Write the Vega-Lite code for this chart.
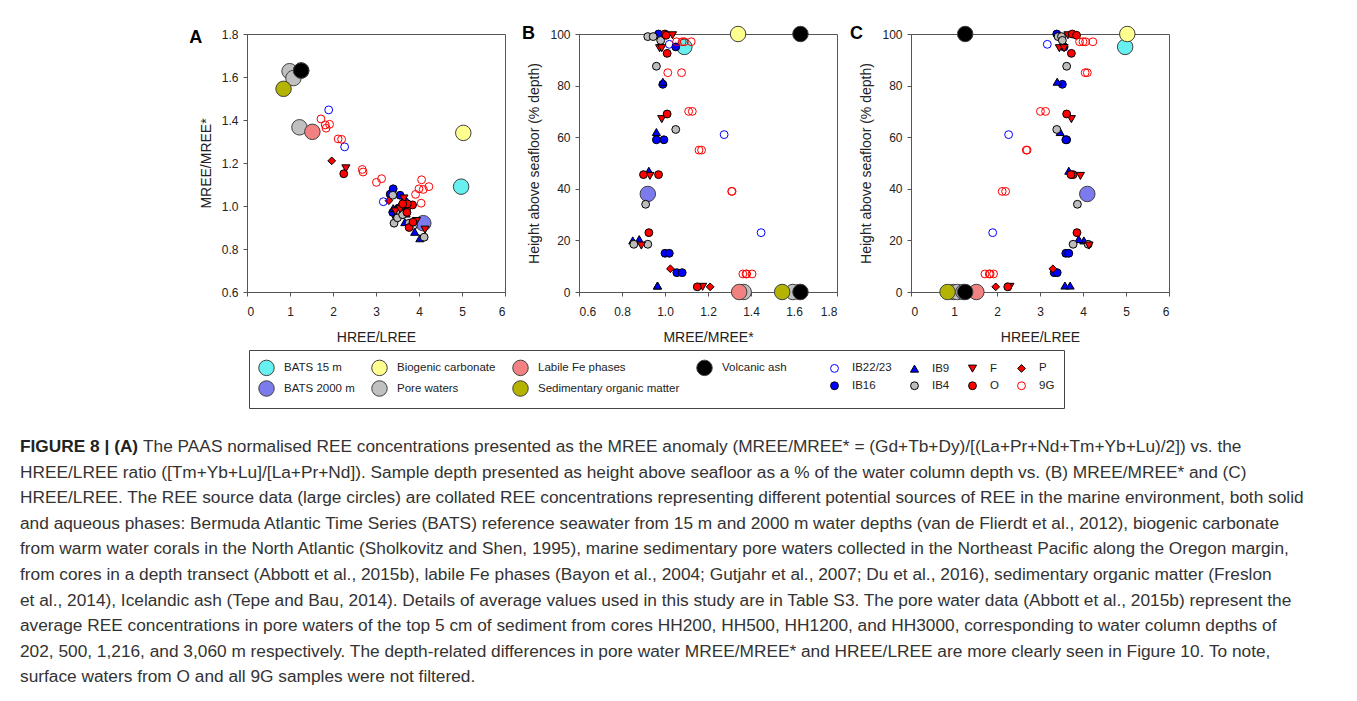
{
  "$schema": "https://vega.github.io/schema/vega-lite/v6.json",
  "padding": {"left": 20, "top": 23, "right": 0, "bottom": 0},
  "background": "white",
  "datasets": {
    "pts": [
      {"g": "Pore waters", "hl": 0.99, "mm": 1.627, "h": 0},
      {"g": "Pore waters", "hl": 1.08, "mm": 1.595, "h": 0},
      {"g": "Pore waters", "hl": 1.22, "mm": 1.366, "h": 0},
      {"g": "Sedimentary organic matter", "hl": 0.85, "mm": 1.545, "h": 0},
      {"g": "Labile Fe phases", "hl": 1.52, "mm": 1.345, "h": 0},
      {"g": "Volcanic ash", "hl": 1.26, "mm": 1.63, "h": 100},
      {"g": "Volcanic ash", "hl": 1.26, "mm": 1.63, "h": 0},
      {"g": "BATS 15 m", "hl": 4.98, "mm": 1.09, "h": 95},
      {"g": "Biogenic carbonate", "hl": 5.03, "mm": 1.34, "h": 100},
      {"g": "BATS 2000 m", "hl": 4.1, "mm": 0.92, "h": 38},
      {"g": "IB16", "hl": 3.39, "mm": 0.97, "h": 100},
      {"g": "IB16", "hl": 3.56, "mm": 1.05, "h": 95},
      {"g": "IB16", "hl": 3.52, "mm": 0.99, "h": 80.5},
      {"g": "IB16", "hl": 3.62, "mm": 0.96, "h": 59},
      {"g": "IB16", "hl": 3.6, "mm": 0.995, "h": 59},
      {"g": "IB16", "hl": 3.6, "mm": 1.0, "h": 15},
      {"g": "IB16", "hl": 3.67, "mm": 1.02, "h": 15},
      {"g": "IB16", "hl": 3.33, "mm": 1.055, "h": 7.5},
      {"g": "IB16", "hl": 3.4, "mm": 1.08, "h": 7.5},
      {"g": "IB9", "hl": 3.4, "mm": 0.99, "h": 81.5},
      {"g": "IB9", "hl": 3.47, "mm": 0.96, "h": 62},
      {"g": "IB9", "hl": 3.67, "mm": 0.925, "h": 47},
      {"g": "IB9", "hl": 4.02, "mm": 0.85, "h": 20},
      {"g": "IB9", "hl": 3.9, "mm": 0.88, "h": 20.5},
      {"g": "IB9", "hl": 3.58, "mm": 0.965, "h": 2.5},
      {"g": "IB9", "hl": 3.7, "mm": 0.965, "h": 2.5},
      {"g": "IB4", "hl": 3.42, "mm": 0.92, "h": 99},
      {"g": "IB4", "hl": 3.5, "mm": 0.945, "h": 99},
      {"g": "IB4", "hl": 3.52, "mm": 0.98, "h": 97.5},
      {"g": "IB4", "hl": 3.62, "mm": 0.96, "h": 87.5},
      {"g": "IB4", "hl": 3.39, "mm": 1.05, "h": 63},
      {"g": "IB4", "hl": 3.87, "mm": 0.91, "h": 34},
      {"g": "IB4", "hl": 3.77, "mm": 0.92, "h": 18.5},
      {"g": "IB4", "hl": 4.12, "mm": 0.855, "h": 18.5},
      {"g": "F", "hl": 3.65, "mm": 1.035, "h": 99.5},
      {"g": "F", "hl": 3.45, "mm": 0.975, "h": 94.5},
      {"g": "F", "hl": 3.56, "mm": 0.985, "h": 94.5},
      {"g": "F", "hl": 3.73, "mm": 0.985, "h": 67},
      {"g": "F", "hl": 3.94, "mm": 0.93, "h": 45},
      {"g": "F", "hl": 4.14, "mm": 0.89, "h": 18},
      {"g": "F", "hl": 2.3, "mm": 1.175, "h": 2},
      {"g": "O", "hl": 3.75, "mm": 1.0, "h": 100},
      {"g": "O", "hl": 3.85, "mm": 1.005, "h": 99.5},
      {"g": "O", "hl": 3.73, "mm": 1.01, "h": 92.5},
      {"g": "O", "hl": 3.62, "mm": 1.01, "h": 69},
      {"g": "O", "hl": 3.77, "mm": 0.9, "h": 45.5},
      {"g": "O", "hl": 3.72, "mm": 0.97, "h": 45.5},
      {"g": "O", "hl": 3.86, "mm": 0.925, "h": 23},
      {"g": "O", "hl": 2.25, "mm": 1.15, "h": 2},
      {"g": "P", "hl": 3.3, "mm": 1.025, "h": 9},
      {"g": "P", "hl": 1.97, "mm": 1.21, "h": 2},
      {"g": "IB22/23", "hl": 3.17, "mm": 1.02, "h": 96},
      {"g": "IB22/23", "hl": 2.27, "mm": 1.275, "h": 61},
      {"g": "IB22/23", "hl": 1.9, "mm": 1.447, "h": 23},
      {"g": "9G", "hl": 3.92, "mm": 1.054, "h": 97},
      {"g": "9G", "hl": 4.0, "mm": 1.08, "h": 97},
      {"g": "9G", "hl": 4.23, "mm": 1.09, "h": 97},
      {"g": "9G", "hl": 4.06, "mm": 1.122, "h": 97},
      {"g": "9G", "hl": 4.05, "mm": 1.013, "h": 85},
      {"g": "9G", "hl": 4.1, "mm": 1.077, "h": 85},
      {"g": "9G", "hl": 3.01, "mm": 1.11, "h": 70},
      {"g": "9G", "hl": 3.13, "mm": 1.127, "h": 70},
      {"g": "9G", "hl": 2.68, "mm": 1.17, "h": 55},
      {"g": "9G", "hl": 2.7, "mm": 1.158, "h": 55},
      {"g": "9G", "hl": 2.12, "mm": 1.312, "h": 39},
      {"g": "9G", "hl": 2.2, "mm": 1.31, "h": 39},
      {"g": "9G", "hl": 1.72, "mm": 1.405, "h": 7},
      {"g": "9G", "hl": 1.82, "mm": 1.377, "h": 7},
      {"g": "9G", "hl": 1.92, "mm": 1.38, "h": 7},
      {"g": "9G", "hl": 1.84, "mm": 1.362, "h": 7}
    ],
    "cap": [
      {"line": 1, "head": "FIGURE 8 | (A)", "text": "The PAAS normalised REE concentrations presented as the MREE anomaly (MREE/MREE* = (Gd+Tb+Dy)/[(La+Pr+Nd+Tm+Yb+Lu)/2]) vs. the"},
      {"line": 2, "head": "", "text": "HREE/LREE ratio ([Tm+Yb+Lu]/[La+Pr+Nd]). Sample depth presented as height above seafloor as a % of the water column depth vs. (B) MREE/MREE* and (C)"},
      {"line": 3, "head": "", "text": "HREE/LREE. The REE source data (large circles) are collated REE concentrations representing different potential sources of REE in the marine environment, both solid"},
      {"line": 4, "head": "", "text": "and aqueous phases: Bermuda Atlantic Time Series (BATS) reference seawater from 15 m and 2000 m water depths (van de Flierdt et al., 2012), biogenic carbonate"},
      {"line": 5, "head": "", "text": "from warm water corals in the North Atlantic (Sholkovitz and Shen, 1995), marine sedimentary pore waters collected in the Northeast Pacific along the Oregon margin,"},
      {"line": 6, "head": "", "text": "from cores in a depth transect (Abbott et al., 2015b), labile Fe phases (Bayon et al., 2004; Gutjahr et al., 2007; Du et al., 2016), sedimentary organic matter (Freslon"},
      {"line": 7, "head": "", "text": "et al., 2014), Icelandic ash (Tepe and Bau, 2014). Details of average values used in this study are in Table S3. The pore water data (Abbott et al., 2015b) represent the"},
      {"line": 8, "head": "", "text": "average REE concentrations in pore waters of the top 5 cm of sediment from cores HH200, HH500, HH1200, and HH3000, corresponding to water column depths of"},
      {"line": 9, "head": "", "text": "202, 500, 1,216, and 3,060 m respectively. The depth-related differences in pore water MREE/MREE* and HREE/LREE are more clearly seen in Figure 10. To note,"},
      {"line": 10, "head": "", "text": "surface waters from O and all 9G samples were not filtered."}
    ]
  },
  "center": true,
  "spacing": 93,
  "vconcat": [
    {
      "bounds": "flush",
      "spacing": 74,
      "hconcat": [
        {
          "width": 258, "height": 258,
          "title": {"text": "A", "anchor": "start", "frame": "bounds", "fontSize": 18, "fontWeight": "bold", "color": "#000", "offset": 0, "dy": 19, "dx": -10},
          "data": {"name": "pts"},
          "mark": {"type": "point", "filled": true, "opacity": 1, "strokeWidth": 1},
          "encoding": {
            "x": {"field": "hl", "type": "quantitative", "scale": {"domain": [0, 6], "nice": false, "zero": false}, "axis": {"title": "HREE/LREE", "values": [0, 1, 2, 3, 4, 5, 6]}},
            "y": {"field": "mm", "type": "quantitative", "scale": {"domain": [0.6, 1.8], "nice": false, "zero": false}, "axis": {"title": "MREE/MREE*", "values": [0.6, 0.8, 1.0, 1.2, 1.4, 1.6, 1.8], "format": ".1f"}},
            "fill": {"field": "g", "type": "nominal", "scale": {"domain": ["BATS 15 m", "Biogenic carbonate", "Labile Fe phases", "Volcanic ash", "IB22/23", "IB9", "F", "P", "BATS 2000 m", "Pore waters", "Sedimentary organic matter", "\u200b\u00a0\u00a0\u00a0\u00a0\u00a0\u00a0\u00a0\u00a0\u00a0\u00a0\u00a0\u00a0\u00a0\u00a0\u00a0\u00a0\u00a0\u00a0\u00a0\u00a0\u00a0\u00a0\u00a0\u00a0\u00a0\u00a0\u00a0\u00a0\u200b", "IB16", "IB4", "O", "9G"], "range": ["#66f0f0", "#ffff90", "#f28282", "#000000", "transparent", "#0000ff", "#ff0000", "#ff0000", "#7b7bee", "#c0c0c0", "#b3b300", "transparent", "#0000ff", "#bdbdbd", "#ff0000", "transparent"]},
              "legend": {"title": null, "orient": "none", "legendX": 169, "legendY": 316, "columns": 8, "direction": "horizontal", "columnPadding": 14, "rowPadding": 0, "labelFontSize": 11.5, "labelColor": "#222", "labelOffset": 9, "symbolStrokeWidth": 1, "padding": 9, "strokeColor": "#444", "labelLimit": 300, "symbolOpacity": 1,
                "encode": {"symbols": {"update": {"size": {"signal": "indexof(['BATS 15 m','Biogenic carbonate','Labile Fe phases','Volcanic ash','BATS 2000 m','Pore waters','Sedimentary organic matter'], datum.value) >= 0 ? 190 : 60"}}}}}},
            "stroke": {"field": "g", "type": "nominal", "scale": {"domain": ["BATS 15 m", "Biogenic carbonate", "Labile Fe phases", "Volcanic ash", "IB22/23", "IB9", "F", "P", "BATS 2000 m", "Pore waters", "Sedimentary organic matter", "\u200b\u00a0\u00a0\u00a0\u00a0\u00a0\u00a0\u00a0\u00a0\u00a0\u00a0\u00a0\u00a0\u00a0\u00a0\u00a0\u00a0\u00a0\u00a0\u00a0\u00a0\u00a0\u00a0\u00a0\u00a0\u00a0\u00a0\u00a0\u00a0\u200b", "IB16", "IB4", "O", "9G"], "range": ["#404040", "#404040", "#404040", "#404040", "#0000ff", "#000000", "#000000", "#000000", "#404040", "#404040", "#404040", "transparent", "#000000", "#000000", "#000000", "#ff0000"]}},
            "shape": {"field": "g", "type": "nominal", "scale": {"domain": ["BATS 15 m", "Biogenic carbonate", "Labile Fe phases", "Volcanic ash", "IB22/23", "IB9", "F", "P", "BATS 2000 m", "Pore waters", "Sedimentary organic matter", "\u200b\u00a0\u00a0\u00a0\u00a0\u00a0\u00a0\u00a0\u00a0\u00a0\u00a0\u00a0\u00a0\u00a0\u00a0\u00a0\u00a0\u00a0\u00a0\u00a0\u00a0\u00a0\u00a0\u00a0\u00a0\u00a0\u00a0\u00a0\u00a0\u200b", "IB16", "IB4", "O", "9G"], "range": ["circle", "circle", "circle", "circle", "circle", "triangle-up", "triangle-down", "diamond", "circle", "circle", "circle", "circle", "circle", "circle", "circle", "circle"]}},
            "size": {"field": "g", "type": "nominal", "scale": {"type": "ordinal", "domain": ["BATS 15 m", "Biogenic carbonate", "Labile Fe phases", "Volcanic ash", "IB22/23", "IB9", "F", "P", "BATS 2000 m", "Pore waters", "Sedimentary organic matter", "\u200b\u00a0\u00a0\u00a0\u00a0\u00a0\u00a0\u00a0\u00a0\u00a0\u00a0\u00a0\u00a0\u00a0\u00a0\u00a0\u00a0\u00a0\u00a0\u00a0\u00a0\u00a0\u00a0\u00a0\u00a0\u00a0\u00a0\u00a0\u00a0\u200b", "IB16", "IB4", "O", "9G"], "range": [240, 240, 240, 240, 62, 66, 66, 60, 240, 240, 240, 60, 62, 62, 62, 62]}}
          }
        },
        {
          "width": 258, "height": 258,
          "title": {"text": "B", "anchor": "start", "frame": "bounds", "fontSize": 18, "fontWeight": "bold", "color": "#000", "offset": 0, "dy": 19, "dx": -6},
          "data": {"name": "pts"},
          "mark": {"type": "point", "filled": true, "opacity": 1, "strokeWidth": 1},
          "encoding": {
            "x": {"field": "mm", "type": "quantitative", "scale": {"domain": [0.6, 1.8], "nice": false, "zero": false}, "axis": {"title": "MREE/MREE*", "values": [0.6, 0.8, 1.0, 1.2, 1.4, 1.6, 1.8], "format": ".1f"}},
            "y": {"field": "h", "type": "quantitative", "scale": {"domain": [0, 100], "nice": false, "zero": false}, "axis": {"title": "Height above seafloor (% depth)", "values": [0, 20, 40, 60, 80, 100]}},
            "fill": {"field": "g", "type": "nominal", "scale": {"domain": ["BATS 15 m", "Biogenic carbonate", "Labile Fe phases", "Volcanic ash", "IB22/23", "IB9", "F", "P", "BATS 2000 m", "Pore waters", "Sedimentary organic matter", "\u200b\u00a0\u00a0\u00a0\u00a0\u00a0\u00a0\u00a0\u00a0\u00a0\u00a0\u00a0\u00a0\u00a0\u00a0\u00a0\u00a0\u00a0\u00a0\u00a0\u00a0\u00a0\u00a0\u00a0\u00a0\u00a0\u00a0\u00a0\u00a0\u200b", "IB16", "IB4", "O", "9G"], "range": ["#66f0f0", "#ffff90", "#f28282", "#000000", "transparent", "#0000ff", "#ff0000", "#ff0000", "#7b7bee", "#c0c0c0", "#b3b300", "transparent", "#0000ff", "#bdbdbd", "#ff0000", "transparent"]}},
            "stroke": {"field": "g", "type": "nominal", "scale": {"domain": ["BATS 15 m", "Biogenic carbonate", "Labile Fe phases", "Volcanic ash", "IB22/23", "IB9", "F", "P", "BATS 2000 m", "Pore waters", "Sedimentary organic matter", "\u200b\u00a0\u00a0\u00a0\u00a0\u00a0\u00a0\u00a0\u00a0\u00a0\u00a0\u00a0\u00a0\u00a0\u00a0\u00a0\u00a0\u00a0\u00a0\u00a0\u00a0\u00a0\u00a0\u00a0\u00a0\u00a0\u00a0\u00a0\u00a0\u200b", "IB16", "IB4", "O", "9G"], "range": ["#404040", "#404040", "#404040", "#404040", "#0000ff", "#000000", "#000000", "#000000", "#404040", "#404040", "#404040", "transparent", "#000000", "#000000", "#000000", "#ff0000"]}},
            "shape": {"field": "g", "type": "nominal", "scale": {"domain": ["BATS 15 m", "Biogenic carbonate", "Labile Fe phases", "Volcanic ash", "IB22/23", "IB9", "F", "P", "BATS 2000 m", "Pore waters", "Sedimentary organic matter", "\u200b\u00a0\u00a0\u00a0\u00a0\u00a0\u00a0\u00a0\u00a0\u00a0\u00a0\u00a0\u00a0\u00a0\u00a0\u00a0\u00a0\u00a0\u00a0\u00a0\u00a0\u00a0\u00a0\u00a0\u00a0\u00a0\u00a0\u00a0\u00a0\u200b", "IB16", "IB4", "O", "9G"], "range": ["circle", "circle", "circle", "circle", "circle", "triangle-up", "triangle-down", "diamond", "circle", "circle", "circle", "circle", "circle", "circle", "circle", "circle"]}},
            "size": {"field": "g", "type": "nominal", "scale": {"type": "ordinal", "domain": ["BATS 15 m", "Biogenic carbonate", "Labile Fe phases", "Volcanic ash", "IB22/23", "IB9", "F", "P", "BATS 2000 m", "Pore waters", "Sedimentary organic matter", "\u200b\u00a0\u00a0\u00a0\u00a0\u00a0\u00a0\u00a0\u00a0\u00a0\u00a0\u00a0\u00a0\u00a0\u00a0\u00a0\u00a0\u00a0\u00a0\u00a0\u00a0\u00a0\u00a0\u00a0\u00a0\u00a0\u00a0\u00a0\u00a0\u200b", "IB16", "IB4", "O", "9G"], "range": [240, 240, 240, 240, 62, 66, 66, 60, 240, 240, 240, 60, 62, 62, 62, 62]}}
          }
        },
        {
          "width": 258, "height": 258,
          "title": {"text": "C", "anchor": "start", "frame": "bounds", "fontSize": 18, "fontWeight": "bold", "color": "#000", "offset": 0, "dy": 19, "dx": -10},
          "data": {"name": "pts"},
          "mark": {"type": "point", "filled": true, "opacity": 1, "strokeWidth": 1},
          "encoding": {
            "x": {"field": "hl", "type": "quantitative", "scale": {"domain": [0, 6], "nice": false, "zero": false}, "axis": {"title": "HREE/LREE", "values": [0, 1, 2, 3, 4, 5, 6]}},
            "y": {"field": "h", "type": "quantitative", "scale": {"domain": [0, 100], "nice": false, "zero": false}, "axis": {"title": "Height above seafloor (% depth)", "values": [0, 20, 40, 60, 80, 100]}},
            "fill": {"field": "g", "type": "nominal", "scale": {"domain": ["BATS 15 m", "Biogenic carbonate", "Labile Fe phases", "Volcanic ash", "IB22/23", "IB9", "F", "P", "BATS 2000 m", "Pore waters", "Sedimentary organic matter", "\u200b\u00a0\u00a0\u00a0\u00a0\u00a0\u00a0\u00a0\u00a0\u00a0\u00a0\u00a0\u00a0\u00a0\u00a0\u00a0\u00a0\u00a0\u00a0\u00a0\u00a0\u00a0\u00a0\u00a0\u00a0\u00a0\u00a0\u00a0\u00a0\u200b", "IB16", "IB4", "O", "9G"], "range": ["#66f0f0", "#ffff90", "#f28282", "#000000", "transparent", "#0000ff", "#ff0000", "#ff0000", "#7b7bee", "#c0c0c0", "#b3b300", "transparent", "#0000ff", "#bdbdbd", "#ff0000", "transparent"]}},
            "stroke": {"field": "g", "type": "nominal", "scale": {"domain": ["BATS 15 m", "Biogenic carbonate", "Labile Fe phases", "Volcanic ash", "IB22/23", "IB9", "F", "P", "BATS 2000 m", "Pore waters", "Sedimentary organic matter", "\u200b\u00a0\u00a0\u00a0\u00a0\u00a0\u00a0\u00a0\u00a0\u00a0\u00a0\u00a0\u00a0\u00a0\u00a0\u00a0\u00a0\u00a0\u00a0\u00a0\u00a0\u00a0\u00a0\u00a0\u00a0\u00a0\u00a0\u00a0\u00a0\u200b", "IB16", "IB4", "O", "9G"], "range": ["#404040", "#404040", "#404040", "#404040", "#0000ff", "#000000", "#000000", "#000000", "#404040", "#404040", "#404040", "transparent", "#000000", "#000000", "#000000", "#ff0000"]}},
            "shape": {"field": "g", "type": "nominal", "scale": {"domain": ["BATS 15 m", "Biogenic carbonate", "Labile Fe phases", "Volcanic ash", "IB22/23", "IB9", "F", "P", "BATS 2000 m", "Pore waters", "Sedimentary organic matter", "\u200b\u00a0\u00a0\u00a0\u00a0\u00a0\u00a0\u00a0\u00a0\u00a0\u00a0\u00a0\u00a0\u00a0\u00a0\u00a0\u00a0\u00a0\u00a0\u00a0\u00a0\u00a0\u00a0\u00a0\u00a0\u00a0\u00a0\u00a0\u00a0\u200b", "IB16", "IB4", "O", "9G"], "range": ["circle", "circle", "circle", "circle", "circle", "triangle-up", "triangle-down", "diamond", "circle", "circle", "circle", "circle", "circle", "circle", "circle", "circle"]}},
            "size": {"field": "g", "type": "nominal", "scale": {"type": "ordinal", "domain": ["BATS 15 m", "Biogenic carbonate", "Labile Fe phases", "Volcanic ash", "IB22/23", "IB9", "F", "P", "BATS 2000 m", "Pore waters", "Sedimentary organic matter", "\u200b\u00a0\u00a0\u00a0\u00a0\u00a0\u00a0\u00a0\u00a0\u00a0\u00a0\u00a0\u00a0\u00a0\u00a0\u00a0\u00a0\u00a0\u00a0\u00a0\u00a0\u00a0\u00a0\u00a0\u00a0\u00a0\u00a0\u00a0\u00a0\u200b", "IB16", "IB4", "O", "9G"], "range": [240, 240, 240, 240, 62, 66, 66, 60, 240, 240, 240, 60, 62, 62, 62, 62]}}
          }
        }
      ]
    },
    {
      "width": 1257, "height": 230.4,
      "view": {"stroke": null},
      "data": {"name": "cap"},
      "encoding": {
        "y": {"field": "line", "type": "ordinal", "scale": {"type": "point", "padding": 0}, "axis": null},
        "x": {"datum": 0, "type": "quantitative", "scale": {"domain": [0, 1]}, "axis": null}
      },
      "layer": [
        {"transform": [{"filter": "datum.line != 1"}], "mark": {"type": "text", "align": "left", "baseline": "middle", "fontSize": 17.3, "color": "#333", "dx": -60}, "encoding": {"text": {"field": "text"}}},
        {"transform": [{"filter": "datum.line == 1"}], "mark": {"type": "text", "align": "left", "baseline": "middle", "fontSize": 17.3, "color": "#333", "dx": 63}, "encoding": {"text": {"field": "text"}}},
        {"transform": [{"filter": "datum.line == 1"}], "mark": {"type": "text", "align": "left", "baseline": "middle", "fontSize": 17.3, "color": "#222", "fontWeight": "bold", "dx": -60}, "encoding": {"text": {"field": "head"}}}
      ]
    }
  ],
  "config": {
    "font": "Liberation Sans",
    "view": {"stroke": "#555", "strokeWidth": 1},
    "axis": {"domainColor": "#555", "tickColor": "#555", "tickSize": 4, "labelFontSize": 12, "labelColor": "#222", "titleFontSize": 14, "titleFontWeight": "normal", "titleColor": "#222", "grid": false},
    "axisX": {"labelPadding": 10, "titlePadding": 13},
    "axisY": {"labelPadding": 5, "titlePadding": 8}
  }
}
